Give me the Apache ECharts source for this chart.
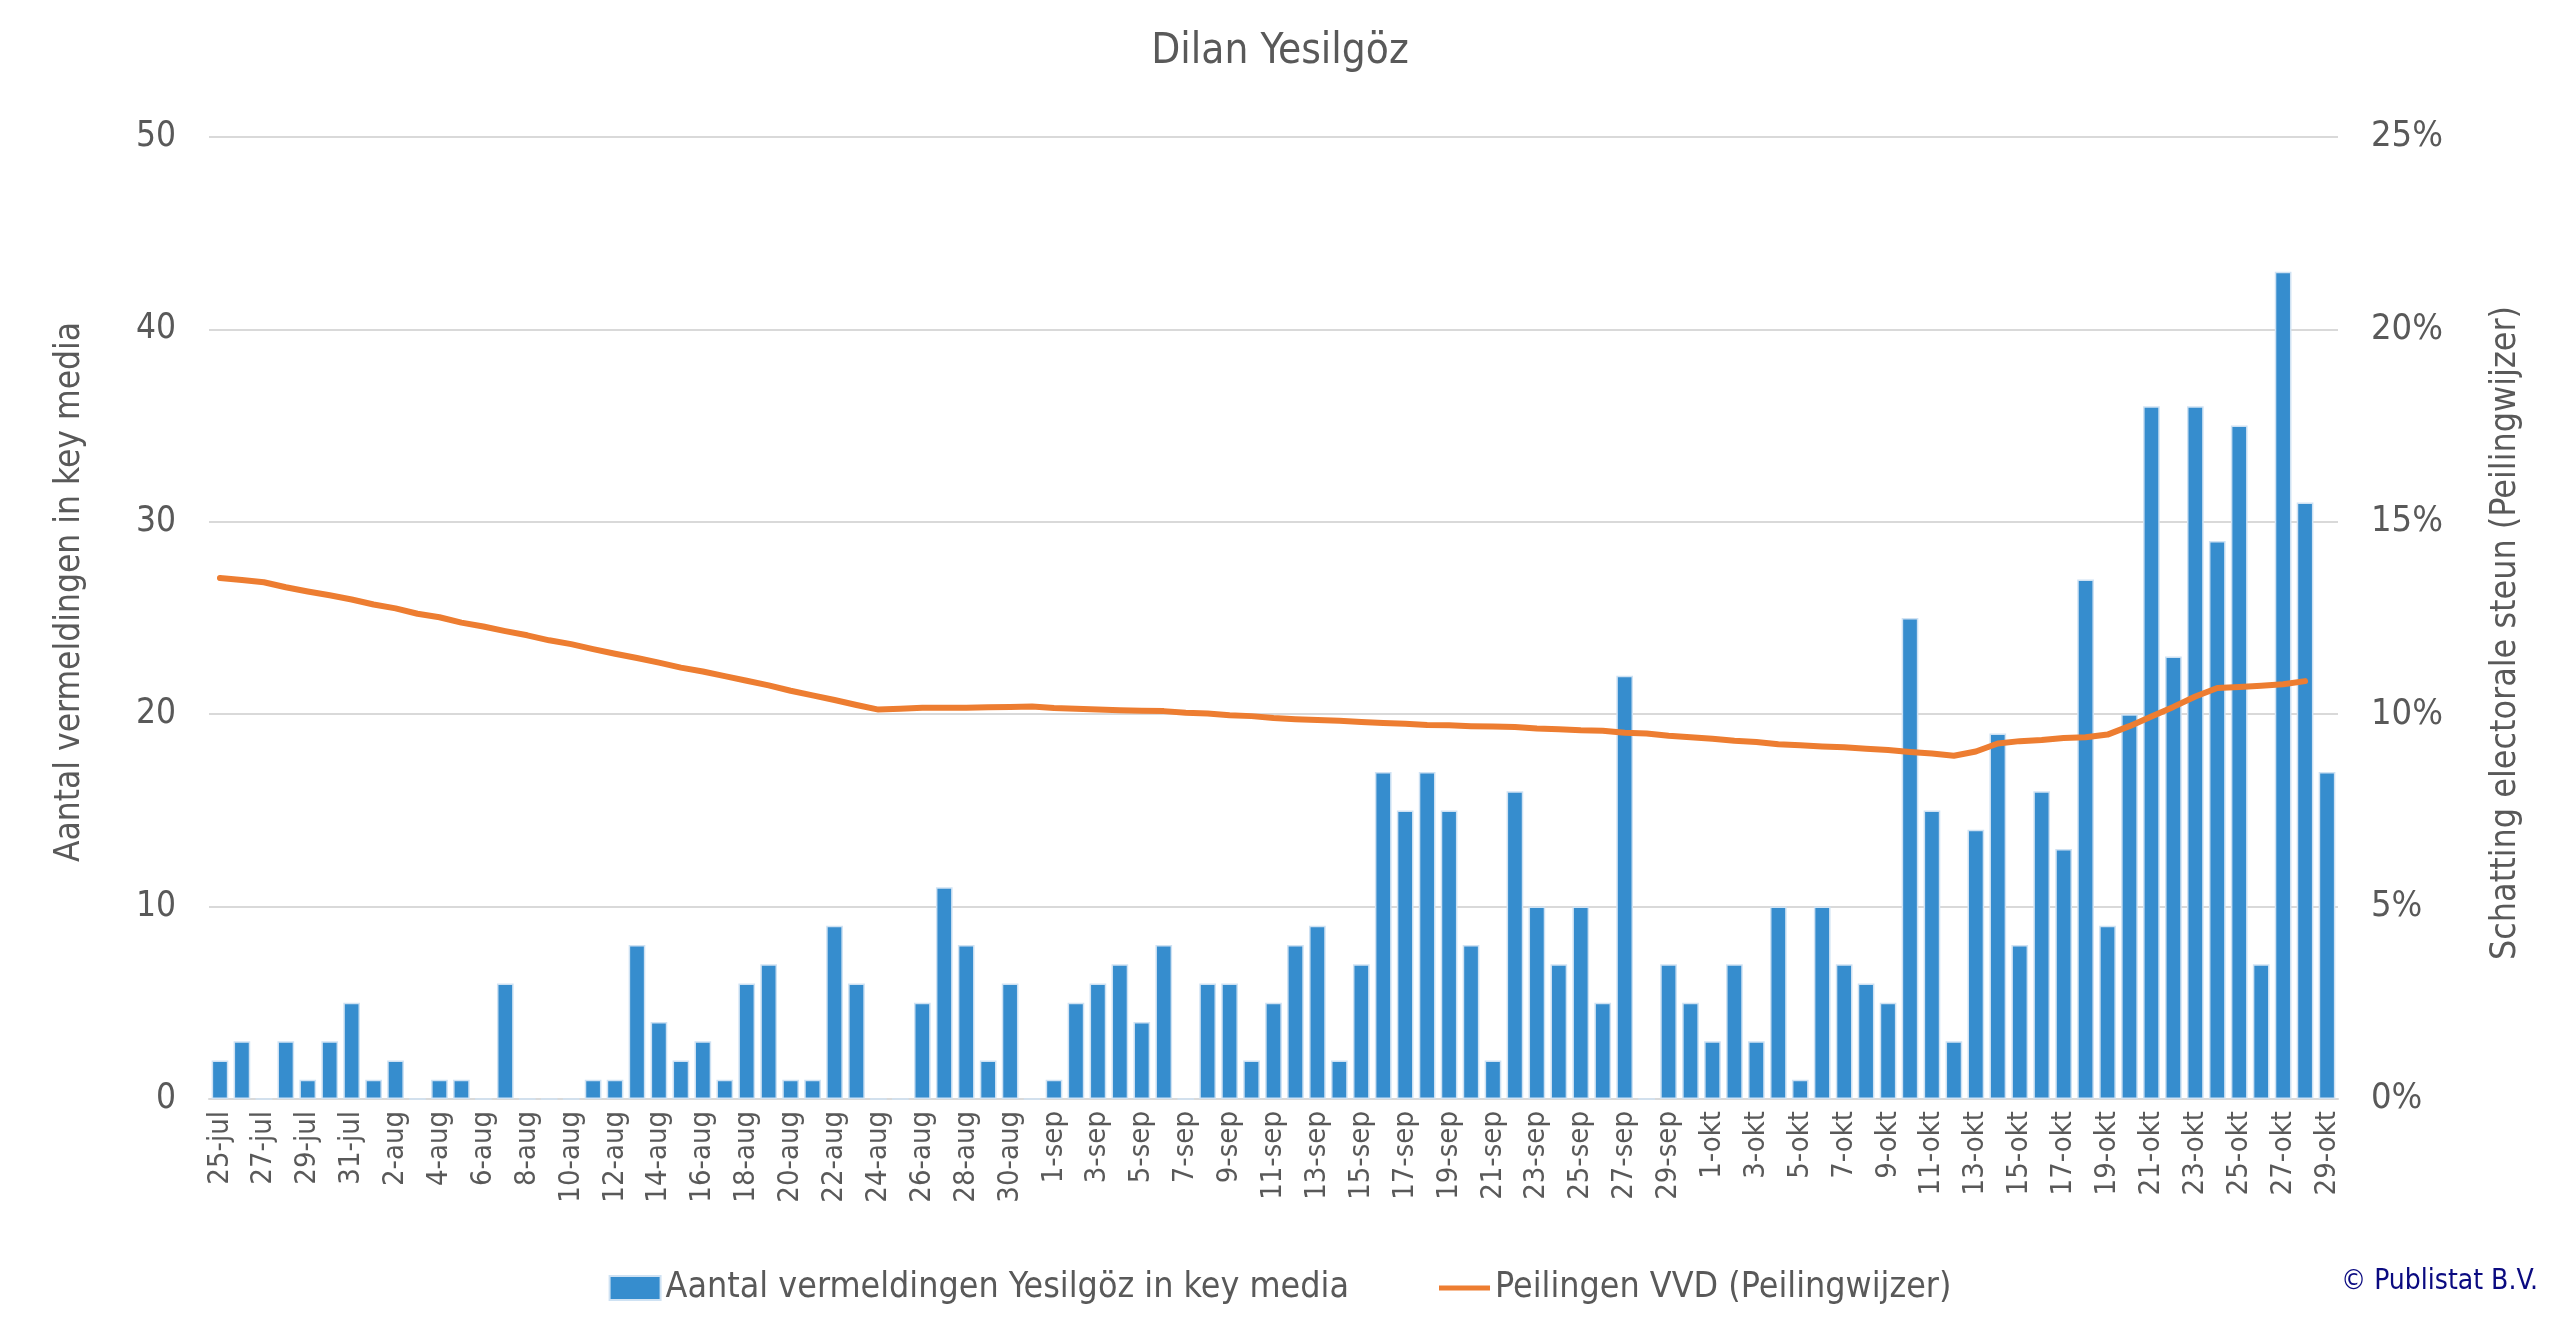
<!DOCTYPE html>
<html>
<head>
<meta charset="utf-8">
<script src="https://cdn.jsdelivr.net/npm/echarts@6/dist/echarts.min.js"></script>
<style>
html,body{margin:0;padding:0;background:#fff;}
#chart{width:2560px;height:1331px;}
</style>
</head>
<body>
<div id="chart"></div>
<script>
// ---- data ----
const monthParts = [
  { name: 'jul', from: 25, to: 31 },
  { name: 'aug', from: 1, to: 31 },
  { name: 'sep', from: 1, to: 30 },
  { name: 'okt', from: 1, to: 29 }
];
const categories = [];
monthParts.forEach(m => { for (let d = m.from; d <= m.to; d++) categories.push(d + '-' + m.name); });

const mentionsJul = [2, 3, 0, 3, 1, 3, 5];
const mentionsAug = [1, 2, 0, 1, 1, 0, 6, 0, 0, 0, 1, 1, 8, 4, 2, 3, 1, 6, 7, 1, 1, 9, 6, 0, 0, 5, 11, 8, 2, 6, 0];
const mentionsSep = [1, 5, 6, 7, 4, 8, 0, 6, 6, 2, 5, 8, 9, 2, 7, 17, 15, 17, 15, 8, 2, 16, 10, 7, 10, 5, 22, 0, 7, 5];
const mentionsOkt = [3, 7, 3, 10, 1, 10, 7, 6, 5, 25, 15, 3, 14, 19, 8, 16, 13, 27, 9, 20, 36, 23, 36, 29, 35, 7, 43, 31, 17];
const mentions = mentionsJul.concat(mentionsAug, mentionsSep, mentionsOkt);

// poll values in percent
const pollJulAug = [13.54, 13.49, 13.43, 13.30, 13.19, 13.09, 12.98, 12.85, 12.75, 12.61, 12.52, 12.38, 12.28, 12.16, 12.05, 11.92, 11.82, 11.69, 11.57, 11.46, 11.34, 11.21, 11.11, 10.99, 10.87, 10.75, 10.61, 10.49, 10.37, 10.24, 10.12, 10.14, 10.17, 10.17, 10.17, 10.18, 10.19, 10.20];
const pollSep = [10.16, 10.14, 10.12, 10.10, 10.09, 10.08, 10.04, 10.02, 9.97, 9.95, 9.90, 9.87, 9.85, 9.83, 9.80, 9.77, 9.75, 9.72, 9.71, 9.69, 9.68, 9.67, 9.63, 9.61, 9.58, 9.57, 9.52, 9.50, 9.44, 9.40];
const pollOkt = [9.36, 9.31, 9.28, 9.22, 9.19, 9.16, 9.14, 9.10, 9.07, 9.02, 8.98, 8.92, 9.03, 9.24, 9.30, 9.33, 9.38, 9.40, 9.47, 9.69, 9.94, 10.19, 10.46, 10.68, 10.71, 10.74, 10.78, 10.86, null];
const poll = pollJulAug.concat(pollSep, pollOkt);

const leftTicks = { min: 0, max: 50, interval: 10 };
const rightTicks = { min: 0, max: 25, interval: 5 };

const titleText = 'Dilan Yesilgöz';
const barName = 'Aantal vermeldingen Yesilgöz in key media';
const lineName = 'Peilingen VVD (Peilingwijzer)';
const leftAxisName = 'Aantal vermeldingen in key media';
const rightAxisName = 'Schatting electorale steun (Peilingwijzer)';
const copyright = '© Publistat B.V.';

// ---- chart ----
const FONT = "'DejaVu Sans Condensed', 'DejaVu Sans', sans-serif";
const TXT = '#595959';
const chart = echarts.init(document.getElementById('chart'));
chart.setOption({
  backgroundColor: '#ffffff',
  textStyle: { fontFamily: FONT, color: TXT },
  title: {
    text: titleText, left: 'center', top: 26,
    textStyle: { fontFamily: FONT, fontSize: 42, fontWeight: 'normal', color: TXT }
  },
  legend: {
    top: 1265, left: 'center', itemGap: 90, itemWidth: 51, itemHeight: 24,
    textStyle: { fontFamily: FONT, fontSize: 35.5, color: TXT },
    data: [
      { name: barName, icon: 'rect' },
      { name: lineName, icon: 'path://M0 0H50V5H0Z' }
    ]
  },
  graphic: [{
    type: 'text', right: 22, top: 1268,
    style: { text: copyright, fill: '#0a0a80', font: "28px 'DejaVu Sans Condensed', 'DejaVu Sans', sans-serif" }
  }],
  grid: { left: 209, right: 222, top: 137, bottom: 232 },
  xAxis: {
    type: 'category', data: categories, boundaryGap: true,
    axisLine: { lineStyle: { color: '#d9d9d9', width: 2 } },
    axisTick: { interval: 1, length: 10, lineStyle: { color: '#d9d9d9', width: 2 } },
    axisLabel: { interval: 1, rotate: 90, margin: 12, fontSize: 29, color: TXT, fontFamily: FONT }
  },
  yAxis: [{
    type: 'value', min: leftTicks.min, max: leftTicks.max, interval: leftTicks.interval,
    name: leftAxisName, nameLocation: 'middle', nameRotate: 90, nameGap: 122,
    nameTextStyle: { fontSize: 35, color: TXT, fontFamily: FONT, padding: [0, 0, 0, 52] },
    axisLine: { show: false }, axisTick: { show: false },
    axisLabel: { fontSize: 35, color: TXT, margin: 33, fontFamily: FONT },
    splitLine: { lineStyle: { color: '#d9d9d9', width: 2 } }
  }, {
    type: 'value', min: rightTicks.min, max: rightTicks.max, interval: rightTicks.interval,
    name: rightAxisName, nameLocation: 'middle', nameRotate: 90, nameGap: 150,
    nameTextStyle: { fontSize: 35.5, color: TXT, fontFamily: FONT, padding: [0, 30, 0, 0] },
    axisLine: { show: false }, axisTick: { show: false },
    axisLabel: { fontSize: 36, color: TXT, margin: 33, formatter: '{value}%', fontFamily: FONT },
    splitLine: { show: false }
  }],
  series: [{
    name: barName, type: 'bar', data: mentions, yAxisIndex: 0,
    barCategoryGap: '24%',
    itemStyle: { color: '#368dce', borderColor: '#cfe2f3', borderWidth: 1.5 }
  }, {
    name: lineName, type: 'line', data: poll, yAxisIndex: 1,
    symbol: 'none', showSymbol: false, connectNulls: false,
    itemStyle: { color: '#ed7d31' },
    lineStyle: { color: '#ed7d31', width: 6, cap: 'round', join: 'round' }
  }],
  animation: false
});
</script>
</body>
</html>
